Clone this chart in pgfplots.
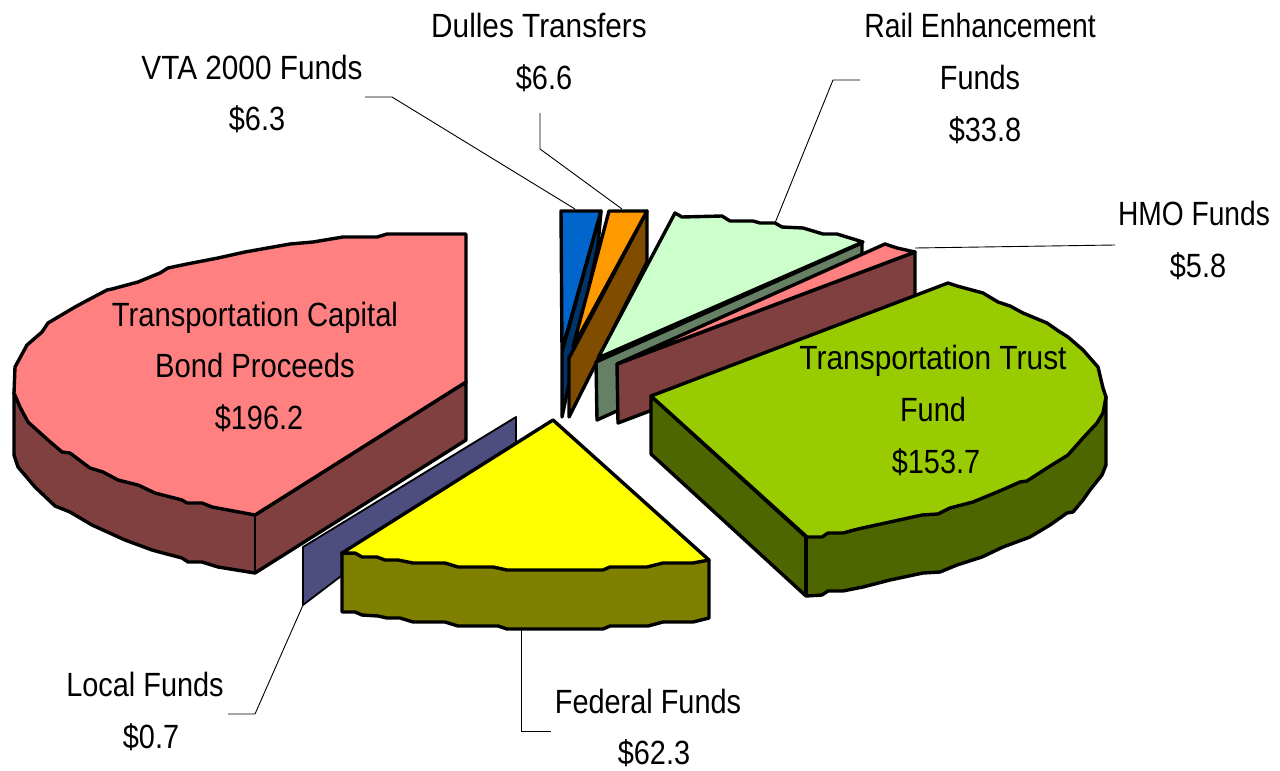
\documentclass[border=0pt]{standalone}
\usepackage{fontspec}
\setmainfont{Liberation Sans}[FakeStretch=0.86]
\usepackage{pgfplots}
\pgfplotsset{compat=1.18}
\definecolor{RedTop}{HTML}{FF8080}
\definecolor{RedSide}{HTML}{804040}
\definecolor{LocalBlue}{HTML}{4D4D80}
\definecolor{FedTop}{HTML}{FFFF00}
\definecolor{FedSide}{HTML}{808000}
\definecolor{VtaTop}{HTML}{0066CC}
\definecolor{VtaSide}{HTML}{003366}
\definecolor{DulTop}{HTML}{FF9900}
\definecolor{DulSide}{HTML}{804D00}
\definecolor{RailTop}{HTML}{CCFFCC}
\definecolor{RailSide}{HTML}{668066}
\definecolor{TtfTop}{HTML}{99CC00}
\definecolor{TtfSide}{HTML}{4D6600}
\tikzset{
  slice/.style={fill=#1,draw=black,line width=1.7pt,line join=round,mark=none},
  leader/.style={draw=black,line width=0.45pt,mark=none},
  lab/.style={anchor=base,inner sep=0pt,font=\fontsize{16.8}{20}\selectfont}
}
\begin{document}
\begin{tikzpicture}
\begin{axis}[
  scale only axis,
  width=640pt,height=385.5pt,
  xmin=0,xmax=1280,ymin=0,ymax=771,
  y dir=reverse,
  hide axis,
  clip=false
]
% bounding frame
\addplot[draw=none,mark=none] coordinates {(0,0) (1280,771)};
% leader lines
\addplot[leader] coordinates {(365,97) (392,97) (575,209)};
\addplot[leader] coordinates {(540,113) (540,149) (622,209)};
\addplot[leader] coordinates {(860,80) (833,80) (775,223)};
\addplot[leader] coordinates {(1115,245) (915,248)};
\addplot[leader] coordinates {(303,605) (255,714) (228,714)};
\addplot[leader] coordinates {(521,629) (521,731) (551,731)};
% Transportation Capital Bond Proceeds
\addplot[slice=RedSide] coordinates {(14,393) (14,455) (18,467) (35,487) (55,506) (70,512) (92,525) (125,540) (152,550) (163,553) (182,558) (188,562) (202,562) (218,567) (255,573) (466,440) (466,382) (255,515)} --cycle;
\addplot[slice=RedSide,line width=1.2pt] coordinates {(255,515) (255,573)};
\addplot[slice=RedTop] coordinates {(466,234) (387,234) (377,237) (343,237) (313,242) (290,244) (245,252) (218,258) (187,264) (168,268) (160,273) (138,282) (112,289) (107,290) (88,300) (75,307) (48,323) (42,332) (27,345) (15,367) (14,393) (20,407) (28,422) (48,440) (62,452) (70,453) (90,468) (103,472) (118,480) (138,485) (155,493) (182,500) (187,503) (202,503) (212,507) (255,515) (466,382)} --cycle;
% Local Funds
\addplot[slice=LocalBlue,line width=0.9pt] coordinates {(303,547) (516,417) (516,443) (303,605)} --cycle;
% Federal Funds
\addplot[slice=FedSide] coordinates {(342,553) (342,612) (355,612) (362,615) (378,616) (387,618) (400,618) (413,622) (445,622) (458,626) (498,626) (507,629) (603,629) (610,626) (648,626) (663,622) (693,622) (709,618) (709,560)} --cycle;
\addplot[slice=FedTop] coordinates {(553,420) (709,560) (693,563) (663,563) (647,567) (610,567) (603,570) (507,570) (493,567) (458,567) (445,563) (413,563) (398,560) (385,560) (377,557) (362,557) (355,553) (342,553)} --cycle;
% VTA 2000 Funds
\addplot[slice=VtaSide] coordinates {(601,211) (562,352) (562,417) (598,245)} --cycle;
\addplot[slice=VtaTop] coordinates {(561,211) (601,211) (562,350)} --cycle;
% Dulles Transfers
\addplot[slice=DulSide] coordinates {(647,211) (569,358) (569,417) (647,262)} --cycle;
\addplot[slice=DulTop] coordinates {(609,211) (647,211) (573,347)} --cycle;
% Rail Enhancement Funds
\addplot[slice=RailSide] coordinates {(596,362) (862,243) (862,300) (597,420)} --cycle;
\addplot[slice=RailTop] coordinates {(598,358) (675,213) (682,217) (722,216) (730,221) (753,221) (760,223) (775,223) (782,227) (803,228) (823,234) (837,234) (863,242)} --cycle;
% HMO Funds
\addplot[slice=RedSide] coordinates {(617,364) (915,252) (915,311) (618,423)} --cycle;
\addplot[slice=RedTop] coordinates {(617,364) (885,244) (897,248) (915,252)} --cycle;
% Transportation Trust Fund
\addplot[slice=TtfSide] coordinates {(651,396) (651,454) (806,596) (822,595) (828,591) (843,591) (863,587) (890,580) (923,573) (940,572) (957,565) (982,557) (1003,547) (1030,537) (1050,525) (1067,513) (1073,512) (1083,500) (1090,490) (1102,475) (1106,465) (1106,397) (806,537)} --cycle;
\addplot[slice=TtfSide] coordinates {(806,537) (806,596)};
\addplot[slice=TtfTop] coordinates {(651,396) (948,283) (957,286) (983,293) (998,302) (1010,306) (1023,313) (1047,323) (1057,330) (1068,337) (1083,350) (1098,367) (1103,388) (1106,397) (1103,413) (1097,423) (1083,438) (1068,455) (1047,468) (1027,481) (1020,482) (1002,490) (973,502) (950,508) (938,514) (922,515) (890,522) (858,529) (843,533) (828,533) (822,537) (807,537)} --cycle;
% labels
\node[lab] at (axis cs:539,37) {\scalebox{1.03}[1]{Dulles Transfers}};
\node[lab] at (axis cs:544,89) {\$6.6};
\node[lab] at (axis cs:252,79) {\scalebox{1.03}[1]{VTA 2000 Funds}};
\node[lab] at (axis cs:257,130) {\$6.3};
\node[lab] at (axis cs:980,37) {\scalebox{0.98}[1]{Rail Enhancement}};
\node[lab] at (axis cs:980,89) {Funds};
\node[lab] at (axis cs:985,141) {\$33.8};
\node[lab] at (axis cs:1194,225) {\scalebox{0.975}[1]{HMO Funds}};
\node[lab] at (axis cs:1198,277) {\$5.8};
\node[lab] at (axis cs:255,326) {\scalebox{1.01}[1]{Transportation Capital}};
\node[lab] at (axis cs:255,377) {\scalebox{1.01}[1]{Bond Proceeds}};
\node[lab] at (axis cs:259,429) {\$196.2};
\node[lab] at (axis cs:933,369) {\scalebox{1.035}[1]{Transportation Trust}};
\node[lab] at (axis cs:933,421) {Fund};
\node[lab] at (axis cs:936,473) {\$153.7};
\node[lab] at (axis cs:145,696) {Local Funds};
\node[lab] at (axis cs:151,748) {\$0.7};
\node[lab] at (axis cs:648,713) {Federal Funds};
\node[lab] at (axis cs:654,764) {\$62.3};
\end{axis}
\end{tikzpicture}
\end{document}
